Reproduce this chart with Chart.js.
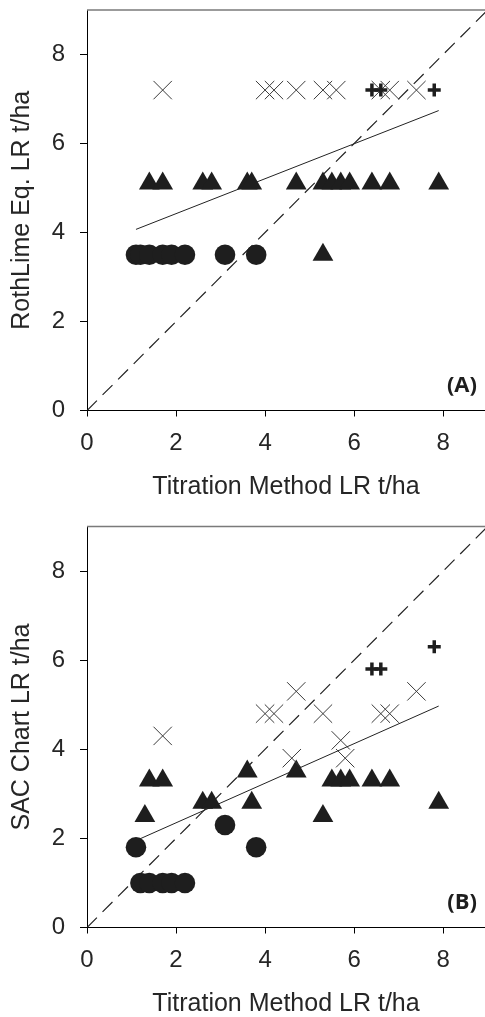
<!DOCTYPE html>
<html>
<head>
<meta charset="utf-8">
<script src="https://cdn.jsdelivr.net/npm/chart.js@4"></script>
<style>
  html, body { margin: 0; padding: 0; background: #fff; overflow: hidden; }
  canvas { display: block; }
</style>
</head>
<body>
<canvas id="chartA" width="485" height="500"></canvas>
<canvas id="chartB" width="485" height="517"></canvas>
<script>
// ---- panel A : RothLime Eq. vs titration ----
const circAx = [1.1, 1.2, 1.4, 1.7, 1.9, 2.2, 3.1, 3.8]
const circAy = [3.5, 3.5, 3.5, 3.5, 3.5, 3.5, 3.5, 3.5]
const triAx = [1.4, 1.7, 2.6, 2.8, 3.6, 3.7, 4.7, 5.3, 5.5, 5.7, 5.9, 6.4, 6.8, 7.9, 5.3]
const triAy = [5.1, 5.1, 5.1, 5.1, 5.1, 5.1, 5.1, 5.1, 5.1, 5.1, 5.1, 5.1, 5.1, 5.1, 3.5]
const crossAx = [1.7, 4.0, 4.2, 4.7, 5.3, 5.6, 6.6, 6.8, 7.4]
const crossAy = [7.2, 7.2, 7.2, 7.2, 7.2, 7.2, 7.2, 7.2, 7.2]
const plusAx = [6.4, 6.6, 7.8]
const plusAy = [7.2, 7.2, 7.2]
const fitAx = [1.1, 7.9]
const fitAy = [4.07, 6.74]

// ---- panel B : SAC chart vs titration ----
const circBx = [1.1, 1.2, 1.4, 1.7, 1.9, 2.2, 3.1, 3.8]
const circBy = [1.8, 1.0, 1.0, 1.0, 1.0, 1.0, 2.3, 1.8]
const triBx = [1.3, 1.4, 1.7, 2.6, 2.8, 3.6, 3.7, 4.7, 5.3, 5.5, 5.7, 5.9, 6.4, 6.8, 7.9]
const triBy = [2.5, 3.3, 3.3, 2.8, 2.8, 3.5, 2.8, 3.5, 2.5, 3.3, 3.3, 3.3, 3.3, 3.3, 2.8]
const crossBx = [1.7, 4.0, 4.2, 4.6, 4.7, 5.3, 5.7, 5.8, 6.6, 6.8, 7.4]
const crossBy = [4.3, 4.8, 4.8, 3.8, 5.3, 4.8, 4.2, 3.8, 4.8, 4.8, 5.3]
const plusBx = [6.4, 6.6, 7.8]
const plusBy = [5.8, 5.8, 6.3]
const fitBx = [1.1, 7.9]
const fitBy = [1.95, 4.97]

// 1:1 line and axes
const oneToOne = [0, 9]
const xTicks = [0, 2, 4, 6, 8]
const yTicks = [0, 2, 4, 6, 8]

const ink = '#1e1e1e'
const txt = '#262626'

function pts(xs, ys) {
  return xs.map((x, i) => ({ x: x, y: ys[i] }))
}

// panel letter + grey top frame
const frame = {
  id: 'frame',
  afterDraw(chart, args, opts) {
    const { ctx, chartArea } = chart
    ctx.save()
    ctx.strokeStyle = '#7a7a7a'
    ctx.lineWidth = 1.5
    ctx.beginPath()
    ctx.moveTo(chartArea.left, chartArea.top)
    ctx.lineTo(chartArea.right, chartArea.top)
    ctx.stroke()
    ctx.fillStyle = ink
    ctx.font = 'bold 22px "Open Sans"'
    ctx.textAlign = 'right'
    ctx.textBaseline = 'alphabetic'
    ctx.fillText(opts.letter, chartArea.right - 8, chartArea.bottom - 19)
    ctx.restore()
  }
}

function makeChart(id, yTitle, letter, padTop, d) {
  new Chart(document.getElementById(id), {
    type: 'scatter',
    data: {
      datasets: [
        {
          data: pts(d.plusX, d.plusY),
          pointStyle: 'cross', pointRadius: 6.5, pointHoverRadius: 6.5,
          borderColor: ink, borderWidth: 3.5, backgroundColor: ink
        },
        {
          data: pts(d.crossX, d.crossY),
          pointStyle: 'crossRot', pointRadius: 13, pointHoverRadius: 13,
          borderColor: '#3a3a3a', borderWidth: 1, backgroundColor: '#3a3a3a'
        },
        {
          data: pts(d.triX, d.triY),
          pointStyle: 'triangle', pointRadius: 12, pointHoverRadius: 12,
          borderWidth: 0, backgroundColor: ink
        },
        {
          data: pts(d.circX, d.circY),
          pointStyle: 'circle', pointRadius: 10.3, pointHoverRadius: 10.3,
          borderWidth: 0, backgroundColor: ink
        },
        {
          data: pts(d.fitX, d.fitY),
          showLine: true, pointRadius: 0, borderColor: '#222', borderWidth: 1
        },
        {
          data: pts(oneToOne, oneToOne),
          showLine: true, pointRadius: 0, borderColor: '#222', borderWidth: 1.2,
          borderDash: [14, 8]
        }
      ]
    },
    options: {
      responsive: false,
      animation: false,
      layout: { autoPadding: false, padding: { top: padTop, right: 0, left: 0, bottom: 0 } },
      plugins: {
        legend: { display: false },
        tooltip: { enabled: false },
        frame: { letter: letter }
      },
      scales: {
        x: {
          type: 'linear', min: 0, max: 8.94,
          afterBuildTicks: s => { s.ticks = xTicks.map(v => ({ value: v })) },
          afterFit: s => { s.height = 89.5; s.paddingLeft = 0; s.paddingRight = 0 },
          ticks: { color: txt, font: { family: '"Liberation Sans"', size: 24 }, padding: 12 },
          grid: { drawOnChartArea: false, tickLength: 6, color: '#000' },
          border: { color: '#000', width: 1 },
          title: {
            display: true, text: 'Titration Method LR t/ha', color: txt,
            font: { family: '"Liberation Sans"', size: 25, lineHeight: 1 },
            padding: { top: 0, bottom: 0 }
          }
        },
        y: {
          type: 'linear', min: 0, max: 9,
          afterBuildTicks: s => { s.ticks = yTicks.map(v => ({ value: v })) },
          afterFit: s => { s.width = 87; s.paddingTop = 0; s.paddingBottom = 0 },
          ticks: { color: txt, font: { family: '"Liberation Sans"', size: 24 }, padding: 15 },
          grid: { drawOnChartArea: false, tickLength: 7, color: '#000' },
          border: { color: '#000', width: 1 },
          title: {
            display: true, text: yTitle, color: txt,
            font: { family: '"Liberation Sans"', size: 25, lineHeight: 1 },
            padding: { top: 10, bottom: 0 }
          }
        }
      }
    },
    plugins: [frame]
  })
}

makeChart('chartA', 'RothLime Eq. LR t/ha', '(A)', 10, {
  circX: circAx, circY: circAy, triX: triAx, triY: triAy,
  crossX: crossAx, crossY: crossAy, plusX: plusAx, plusY: plusAy,
  fitX: fitAx, fitY: fitAy
})
makeChart('chartB', 'SAC Chart LR t/ha', '(B)', 26.5, {
  circX: circBx, circY: circBy, triX: triBx, triY: triBy,
  crossX: crossBx, crossY: crossBy, plusX: plusBx, plusY: plusBy,
  fitX: fitBx, fitY: fitBy
})
</script>
</body>
</html>
